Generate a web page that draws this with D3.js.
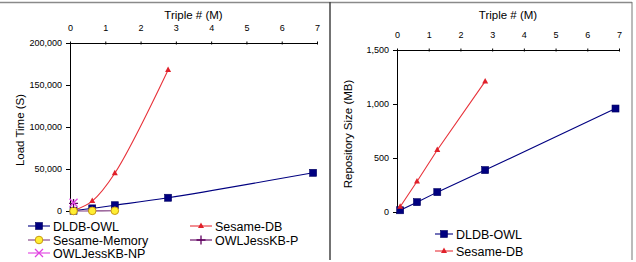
<!DOCTYPE html>
<html>
<head>
<meta charset="utf-8">
<script src="https://cdn.jsdelivr.net/npm/d3@7"></script>
<style>
  body { margin: 0; background: #fff; }
  svg { display: block; font-family: "Liberation Sans", Arial, sans-serif; }
  .tick text { font-size: 9px; fill: #000; }
  .domain, .tick line { stroke: #000; }
</style>
</head>
<body>
<svg id="chart" width="636" height="262"></svg>
<script>
// triples (millions) for each data set
const triples = [0.1, 0.63, 1.27, 2.78, 6.89];
const xTicks = [0, 1, 2, 3, 4, 5, 6, 7];

// load time (s)
const dldbLoad = [343, 3117, 6881, 15773, 45477];
const sesameDbLoad = [542, 11772, 44870, 167753];
const sesameMemLoad = [13, 113, 340];
const jessPLoad = [9000];
const jessNPLoad = [9800];
const loadTicks = [0, 50000, 100000, 150000, 200000];

// repository size (MB)
const dldbSize = [16, 91, 184, 388, 958];
const sesameDbSize = [48, 283, 574, 1209];
const sizeTicks = [0, 500, 1000, 1500];

const svg = d3.select('#chart');
const fmt = d3.format(',');

// frame
svg.append('line').attr('x1', 0).attr('x2', 632).attr('y1', 2.5).attr('y2', 2.5)
    .attr('stroke', '#8a8a8a').attr('stroke-width', 1.5);
svg.append('line').attr('x1', 330).attr('x2', 330).attr('y1', 2).attr('y2', 260)
    .attr('stroke', '#444').attr('stroke-width', 1.5);
svg.append('line').attr('x1', 632).attr('x2', 632).attr('y1', 2).attr('y2', 260)
    .attr('stroke', '#777').attr('stroke-width', 1);

function drawMarker(g, type, color, x, y) {
    if (type === 'square') {
        g.append('rect').attr('x', x - 3.5).attr('y', y - 3.5).attr('width', 7).attr('height', 7)
            .attr('fill', '#000080').attr('stroke', '#000060').attr('stroke-width', 0.6);
    } else if (type === 'triangle') {
        g.append('path').attr('d', `M${x},${y - 3.5}L${x + 3},${y + 2}L${x - 3},${y + 2}Z`)
            .attr('fill', color);
    } else if (type === 'circle') {
        g.append('circle').attr('cx', x).attr('cy', y).attr('r', 3.8)
            .attr('fill', '#ffee33').attr('stroke', '#c89a10').attr('stroke-width', 1);
    } else if (type === 'plus') {
        g.append('path').attr('d', `M${x - 4.5},${y}H${x + 4.5}M${x},${y - 4.5}V${y + 4.5}`)
            .attr('stroke', color).attr('stroke-width', 1.3).attr('fill', 'none');
    } else if (type === 'cross') {
        g.append('path').attr('d', `M${x - 4},${y - 4}L${x + 4},${y + 4}M${x + 4},${y - 4}L${x - 4},${y + 4}`)
            .attr('stroke', color).attr('stroke-width', 1.3).attr('fill', 'none');
    }
}

function drawPanel(cfg) {
    const x = d3.scaleLinear().domain([0, 7]).range([cfg.x0, cfg.x1]);
    const y = d3.scaleLinear().domain([0, cfg.ymax]).range([cfg.y0, cfg.y1]);

    svg.append('g')
        .attr('transform', `translate(0,${cfg.y1})`)
        .call(d3.axisTop(x).tickValues(xTicks).tickFormat(d3.format('d'))
            .tickSize(-3).tickSizeOuter(0).tickPadding(12))
        .call(g => g.selectAll('.tick line').attr('transform', 'translate(0,-1.5)'));

    svg.append('g')
        .attr('transform', `translate(${cfg.x0},0)`)
        .call(d3.axisLeft(y).tickValues(cfg.yTicks).tickSize(4).tickSizeOuter(0).tickFormat(fmt).tickPadding(4));

    svg.append('text')
        .attr('x', (cfg.x0 + cfg.x1) / 2).attr('y', 19)
        .attr('text-anchor', 'middle').attr('font-size', '11.5px')
        .text('Triple # (M)');

    svg.append('text')
        .attr('transform', `translate(${cfg.ytitleX},${(cfg.y0 + cfg.y1) / 2 + 3}) rotate(-90)`)
        .attr('text-anchor', 'middle').attr('font-size', '11.5px')
        .text(cfg.ytitle);

    const plot = svg.append('g');
    cfg.series.forEach(s => {
        const pts = s.values.map((v, i) => [x(triples[i]), y(v)]);
        if (pts.length > 1) {
            plot.append('path')
                .attr('d', d3.line().curve(cfg.curve)(pts))
                .attr('fill', 'none').attr('stroke', s.line).attr('stroke-width', 1.1);
        }
    });
    cfg.series.forEach(s => {
        s.values.forEach((v, i) => drawMarker(plot, s.marker, s.color, x(triples[i]), y(v)));
    });

    const leg = svg.append('g').attr('font-size', '12.5px');
    cfg.series.forEach((s, i) => {
        const p = cfg.legendPos[i];
        leg.append('line').attr('x1', p[0]).attr('x2', p[0] + cfg.legendLine).attr('y1', p[1]).attr('y2', p[1])
            .attr('stroke', s.line).attr('stroke-width', 1.1);
        drawMarker(leg, s.marker, s.color, p[0] + cfg.legendLine / 2, p[1]);
        leg.append('text').attr('x', p[0] + cfg.legendLine + 3).attr('y', p[1] + 4.5).text(s.name);
    });
}

drawPanel({
    x0: 70, x1: 317, y0: 211, y1: 43, ymax: 200000, yTicks: loadTicks,
    ytitle: 'Load Time (S)', ytitleX: 24, curve: d3.curveCatmullRom,
    legendLine: 22,
    legendPos: [[28, 226], [190, 226], [28, 240], [190, 240], [28, 253]],
    series: [
        { name: 'DLDB-OWL', values: dldbLoad, line: '#000080', color: '#000080', marker: 'square' },
        { name: 'Sesame-DB', values: sesameDbLoad, line: '#e8323a', color: '#e0202a', marker: 'triangle' },
        { name: 'Sesame-Memory', values: sesameMemLoad, line: '#803c80', color: '#803c80', marker: 'circle' },
        { name: 'OWLJessKB-P', values: jessPLoad, line: '#600060', color: '#600060', marker: 'plus' },
        { name: 'OWLJessKB-NP', values: jessNPLoad, line: '#e040e0', color: '#e040e0', marker: 'cross' }
    ]
});

drawPanel({
    x0: 397, x1: 619, y0: 212, y1: 50, ymax: 1500, yTicks: sizeTicks,
    ytitle: 'Repository Size (MB)', ytitleX: 352, curve: d3.curveLinear,
    legendLine: 18,
    legendPos: [[435, 234], [435, 251]],
    series: [
        { name: 'DLDB-OWL', values: dldbSize, line: '#000080', color: '#000080', marker: 'square' },
        { name: 'Sesame-DB', values: sesameDbSize, line: '#e8323a', color: '#e0202a', marker: 'triangle' }
    ]
});
</script>
</body>
</html>
